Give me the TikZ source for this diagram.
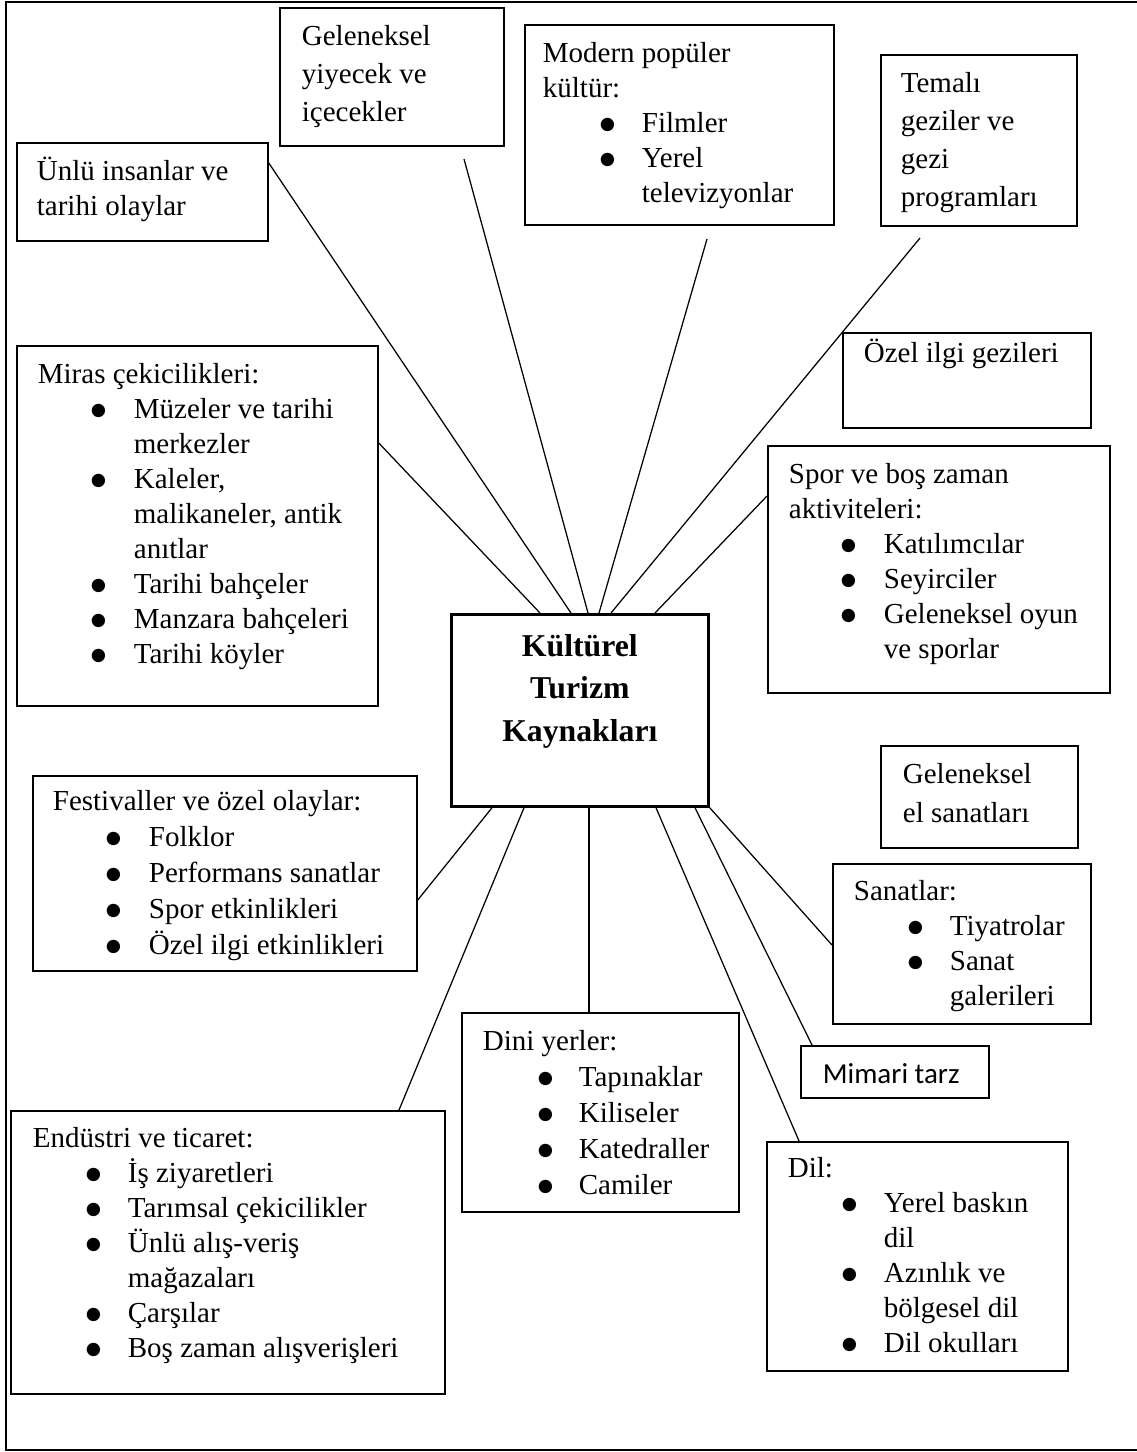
\documentclass[tikz,border=0pt]{standalone}
\usepackage{fontspec}
\setmainfont{Liberation Serif}
\newfontfamily\calibri{Carlito}
\newfontfamily\dejavu{DejaVu Sans}
\usetikzlibrary{calc}

% 1 px of the layout
\newlength\pxu
\setlength\pxu{0.4pt}

\makeatletter
% box body: width, height, first baseline (all px), content
\newcommand{\boxbody}[4]{%
  \parbox[t][#2\pxu][t]{#1\pxu}{\baselineskip=\f@baselineskip\relax
    \lineskiplimit=-\maxdimen\raggedright
    \vspace*{\dimexpr#3\pxu-\ht\strutbox\relax}#4\par}}
\makeatother
% big round bullet, as in the word-processor lists
\newcommand{\blt}{\raisebox{1.3pt}{\dejavu\fontsize{7}{7}\selectfont ●}}
% heading line(s) at x offset; bullet item (bullet x, text x)
\newcommand{\hd}[2]{\par\leftskip=#1\pxu\strut#2\par}
\newcommand{\itm}[3]{\par\leftskip=#2\pxu\strut
  \llap{\makebox[\dimexpr#2\pxu-#1\pxu\relax][l]{\blt}}#3\par}

\begin{document}
\begin{tikzpicture}[x=0.4pt,y=-0.4pt,
  font=\fontsize{11.6}{14}\selectfont,
  box/.style={draw,line width=0.7pt,anchor=north west,inner sep=0pt},
  lsp/.style={font=\fontsize{11.6}{#1}\selectfont},
  conn/.style={line width=0.5pt},
  outer/.style={line width=0.9pt}]

\useasboundingbox (0,0) rectangle (1137,1452);
% page frame, open on the right
\draw[outer] (1137,2) -- (6,2) -- (6,1450) -- (1137,1450);

% ---- centre ----
\node[box,line width=1.1pt,font=\fontsize{12.7}{17}\selectfont\bfseries]
  (kaynak) at (450,613)
  {\boxbody{257}{192}{42}{\centering\strut Kültürel\\Turizm\\Kaynakları}};

% ---- top row ----
\node[box] (unlu) at (16,142)
  {\boxbody{251}{98}{38}{\hd{20}{Ünlü insanlar ve\\tarihi olaylar}}};
\node[box,lsp=15.2] (yiyecek) at (279,7)
  {\boxbody{224}{138}{38}{\hd{22}{Geleneksel\\yiyecek ve\\içecekler}}};
\node[box] (modern) at (524,24)
  {\boxbody{309}{200}{38}{\hd{18}{Modern popüler\\kültür:}
    \itm{75}{117}{Filmler}
    \itm{75}{117}{Yerel\\televizyonlar}}};
\node[box,lsp=15.1] (temali) at (880,54)
  {\boxbody{196}{171}{38}{\hd{20}{Temalı\\geziler ve\\gezi\\programları}}};
\node[box] (ozel) at (842,332)
  {\boxbody{248}{95}{30}{\hd{21}{Özel ilgi gezileri}}};

% ---- middle row ----
\node[box] (miras) at (16,345)
  {\boxbody{361}{360}{38}{\hd{21}{Miras çekicilikleri:}
    \itm{74}{117}{Müzeler ve tarihi\\merkezler}
    \itm{74}{117}{Kaleler,\\malikaneler, antik\\anıtlar}
    \itm{74}{117}{Tarihi bahçeler}
    \itm{74}{117}{Manzara bahçeleri}
    \itm{74}{117}{Tarihi köyler}}};
\node[box] (spor) at (767,445)
  {\boxbody{342}{247}{38}{\hd{21}{Spor ve boş zaman\\aktiviteleri:}
    \itm{73}{116}{Katılımcılar}
    \itm{73}{116}{Seyirciler}
    \itm{73}{116}{Geleneksel oyun\\ve sporlar}}};
\node[box,lsp=15.6] (elsanat) at (880,745)
  {\boxbody{197}{102}{38}{\hd{22}{Geleneksel\\el sanatları}}};
\node[box,lsp=14.4] (festival) at (32,775)
  {\boxbody{384}{195}{35}{\hd{20}{Festivaller ve özel olaylar:}
    \itm{73}{116}{Folklor}
    \itm{73}{116}{Performans sanatlar}
    \itm{73}{116}{Spor etkinlikleri}
    \itm{73}{116}{Özel ilgi etkinlikleri}}};
\node[box] (sanatlar) at (832,863)
  {\boxbody{258}{160}{37}{\hd{21}{Sanatlar:}
    \itm{75}{117}{Tiyatrolar}
    \itm{75}{117}{Sanat\\galerileri}}};
\node[box,font=\fontsize{11.6}{14}\selectfont\calibri] (mimari) at (800,1045)
  {\boxbody{188}{52}{38}{\hd{22}{Mimari tarz}}};

% ---- bottom row ----
\node[box,lsp=14.4] (dini) at (461,1012)
  {\boxbody{277}{199}{38}{\hd{21}{Dini yerler:}
    \itm{76}{117}{Tapınaklar}
    \itm{76}{117}{Kiliseler}
    \itm{76}{117}{Katedraller}
    \itm{76}{117}{Camiler}}};
\node[box] (endustri) at (10,1110)
  {\boxbody{434}{283}{37}{\hd{22}{Endüstri ve ticaret:}
    \itm{75}{117}{İş ziyaretleri}
    \itm{75}{117}{Tarımsal çekicilikler}
    \itm{75}{117}{Ünlü alış-veriş\\mağazaları}
    \itm{75}{117}{Çarşılar}
    \itm{75}{117}{Boş zaman alışverişleri}}};
\node[box] (dil) at (766,1141)
  {\boxbody{301}{229}{36}{\hd{21}{Dil:}
    \itm{75}{117}{Yerel baskın\\dil}
    \itm{75}{117}{Azınlık ve\\bölgesel dil}
    \itm{75}{117}{Dil okulları}}};

% ---- spokes ----
% free ends stop short of their boxes
\coordinate (yiy-end) at (464,159);
\coordinate (mod-end) at (707,239);
\coordinate (tem-end) at (920,238);
\draw[conn] ($(miras.north east)+(0,98)$) -- ($(kaynak.north west)+(90,0)$);
\draw[conn] ($(unlu.north east)+(0,21)$) -- ($(kaynak.north west)+(121,0)$);
\draw[conn] (yiy-end) -- ($(kaynak.north west)+(138,0)$);
\draw[conn] (mod-end) -- ($(kaynak.north west)+(149,0)$);
\draw[conn] (tem-end) -- ($(kaynak.north west)+(161,0)$);
\draw[conn] ($(spor.north west)+(0,51)$) -- ($(kaynak.north west)+(205,0)$);
\draw[conn] ($(festival.north east)+(0,125)$) -- ($(kaynak.south west)+(42,0)$);
\draw[conn] ($(endustri.north west)+(389,0)$) -- ($(kaynak.south west)+(74,0)$);
\draw[conn] ($(dini.north west)+(128,0)$) -- ($(kaynak.south west)+(139,0)$);
\draw[conn] ($(dil.north west)+(33,0)$) -- ($(kaynak.south west)+(206,0)$);
\draw[conn] ($(mimari.north west)+(12,0)$) -- ($(kaynak.south west)+(245,0)$);
\draw[conn] ($(sanatlar.north west)+(0,82)$) -- (kaynak.south east);
\end{tikzpicture}
\end{document}
